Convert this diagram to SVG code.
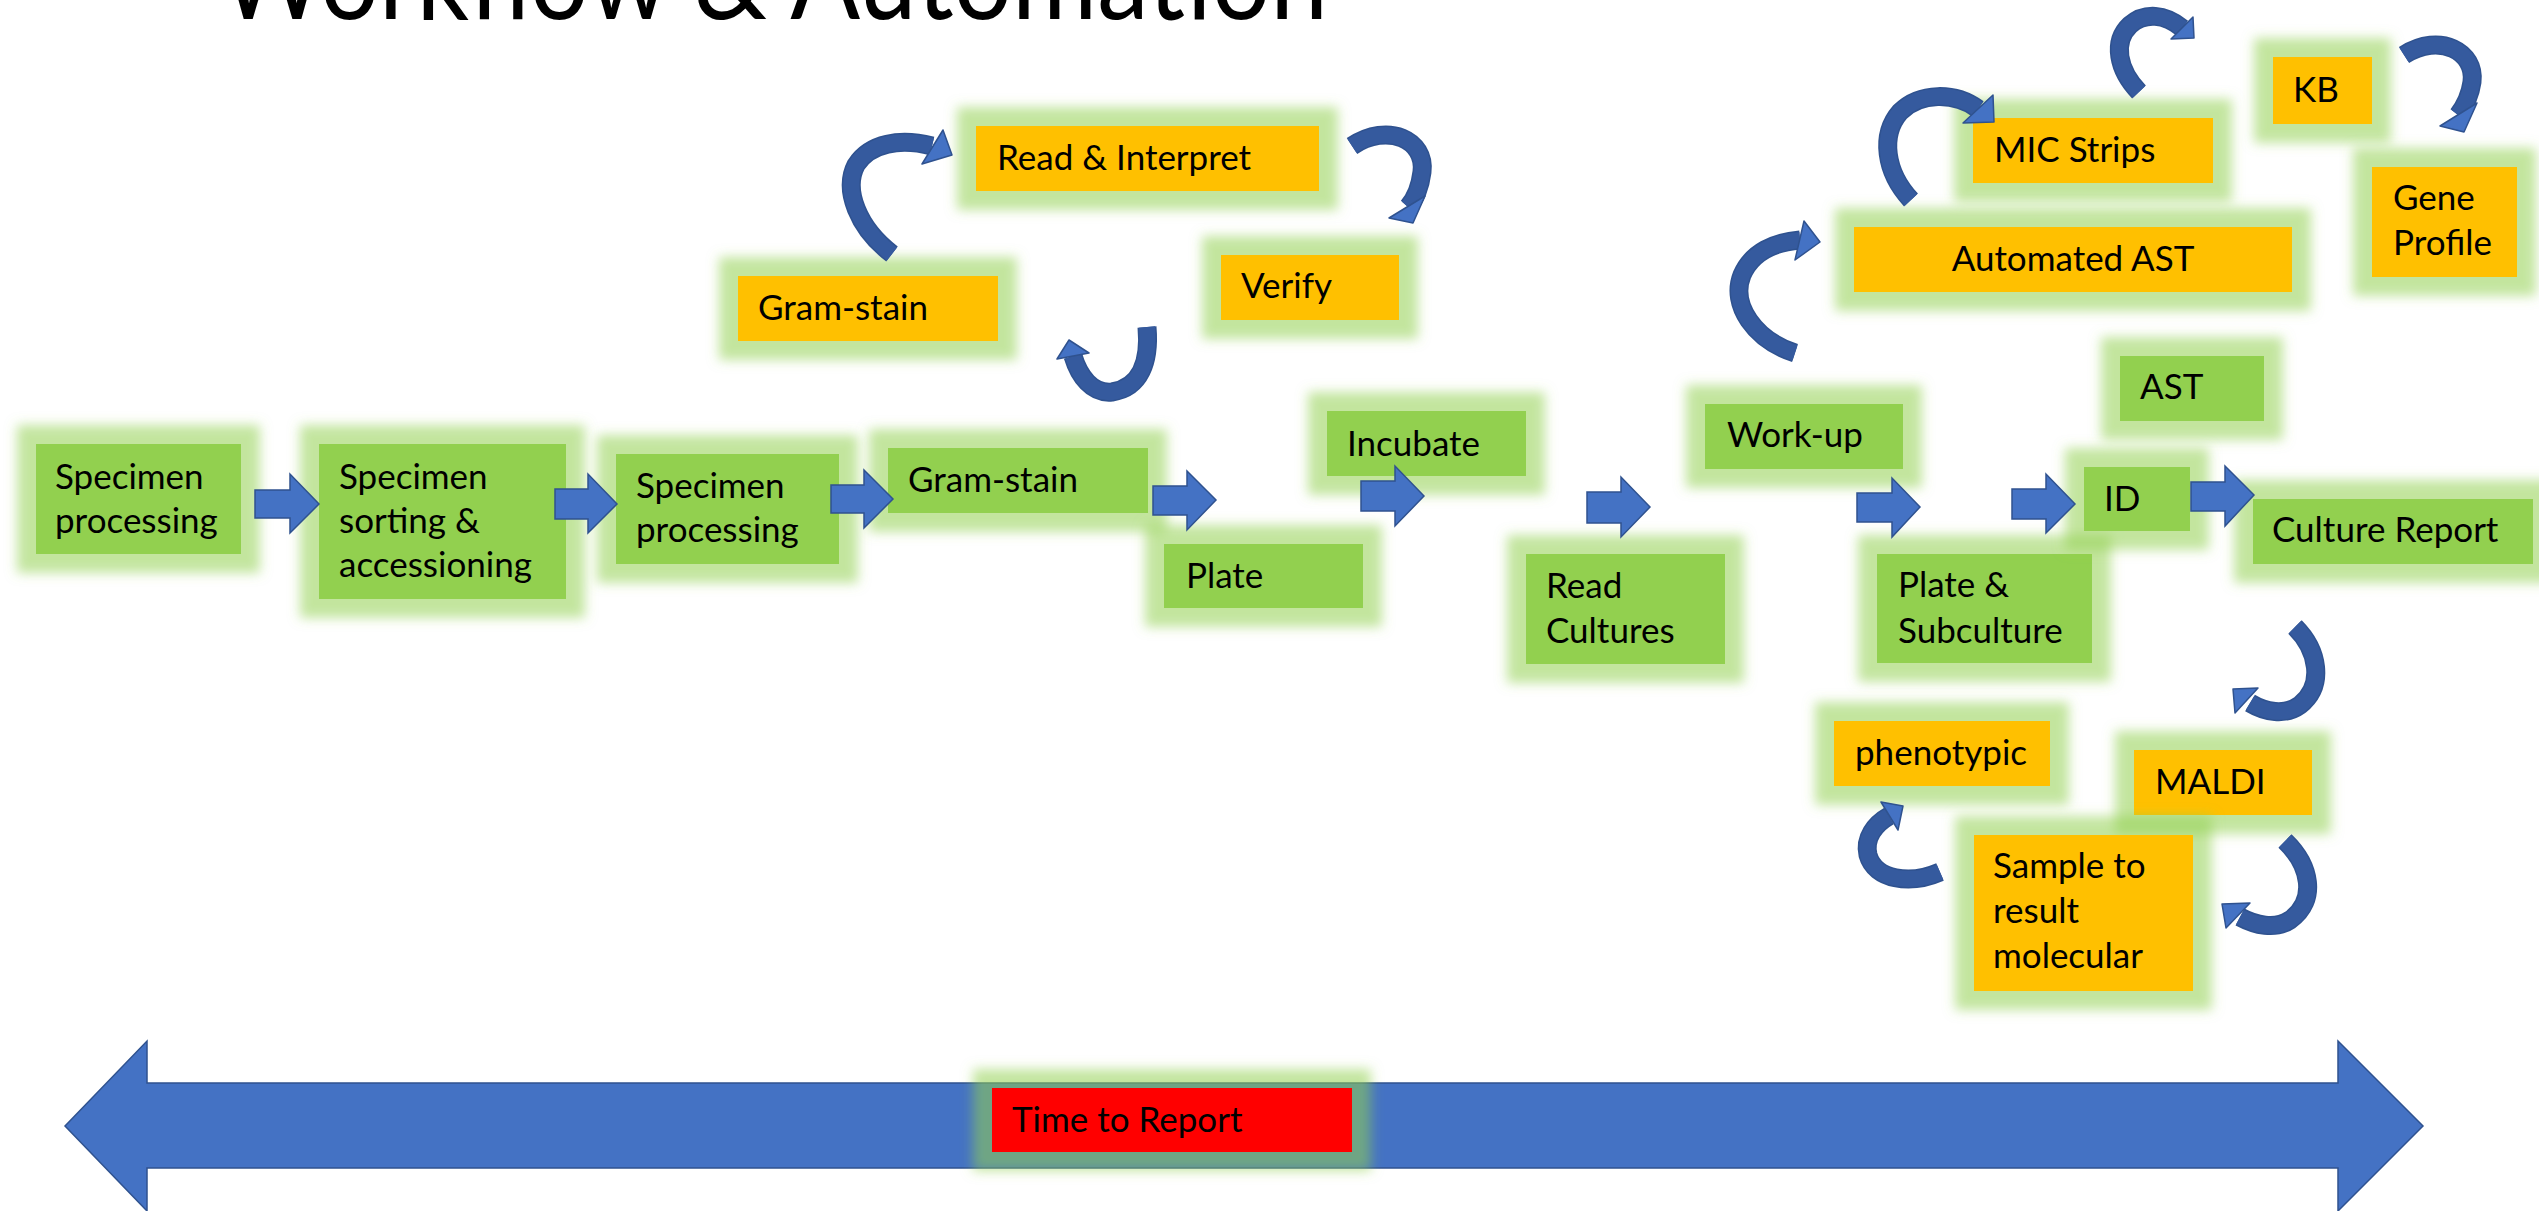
<svg xmlns="http://www.w3.org/2000/svg" width="2539" height="1211" viewBox="0 0 2539 1211">
<defs>
<filter id="glow" x="-60%" y="-100%" width="220%" height="300%">
<feMorphology in="SourceAlpha" operator="dilate" radius="19" result="d"/>
<feGaussianBlur in="d" stdDeviation="6" result="b"/>
<feFlood flood-color="#92D050" flood-opacity="0.55"/>
<feComposite in2="b" operator="in" result="g"/>
<feMerge><feMergeNode in="g"/><feMergeNode in="SourceGraphic"/></feMerge>
</filter>
</defs>
<style>
.g{fill:#92D050;filter:url(#glow)}
.o{fill:#FFC000;filter:url(#glow)}
.r{fill:#FF0000;filter:url(#glow)}
text{font-family:Lato,"Liberation Sans",sans-serif;font-size:35px;fill:#000}
.title{font-size:116px;font-weight:400}
.blk{fill:#4472C4;stroke:#2F528F;stroke-width:1.5}
.ce{fill:none;stroke:#2F528F;stroke-width:19}
.cb{fill:none;stroke:#355A9E;stroke-width:16}
.ch{fill:#4472C4;stroke:#2F528F;stroke-width:1.5;stroke-linejoin:round}
</style>
<rect width="2539" height="1211" fill="#fff"/>
<text class="title" x="219" y="19" textLength="1109" lengthAdjust="spacingAndGlyphs">Workflow &amp; Automation</text>

<g id="timeline">
<polygon class="blk" points="65,1126 147,1041 147,1083 2338,1083 2338,1041 2423,1126 2338,1211 2338,1168 147,1168 147,1211"/>
</g>
<g id="time-to-report"><rect class="r" x="992" y="1088" width="360" height="64"/><text x="1012" y="1132">Time to Report</text></g>

<g id="n-specimen-processing-1"><rect class="g" x="36" y="444" width="205" height="110"/><text x="55" y="489">Specimen</text><text x="55" y="533">processing</text></g>
<g id="n-sorting"><rect class="g" x="319" y="444" width="247" height="155"/><text x="339" y="489">Specimen</text><text x="339" y="533">sorting &amp;</text><text x="339" y="577">accessioning</text></g>
<g id="n-specimen-processing-2"><rect class="g" x="616" y="454" width="223" height="110"/><text x="636" y="498">Specimen</text><text x="636" y="542">processing</text></g>
<g id="n-gram-stain"><rect class="g" x="888" y="448" width="260" height="65"/><text x="908" y="492">Gram-stain</text></g>
<g id="n-plate"><rect class="g" x="1164" y="544" width="199" height="64"/><text x="1186" y="588">Plate</text></g>
<g id="n-incubate"><rect class="g" x="1327" y="411" width="199" height="65"/><text x="1347" y="456">Incubate</text></g>
<g id="n-read-cultures"><rect class="g" x="1526" y="554" width="199" height="110"/><text x="1546" y="598">Read</text><text x="1546" y="643">Cultures</text></g>
<g id="n-work-up"><rect class="g" x="1705" y="404" width="198" height="65"/><text x="1727" y="447">Work-up</text></g>
<g id="n-plate-subculture"><rect class="g" x="1877" y="554" width="215" height="109"/><text x="1898" y="597">Plate &amp;</text><text x="1898" y="643">Subculture</text></g>
<g id="n-ast"><rect class="g" x="2120" y="356" width="144" height="65"/><text x="2140" y="399">AST</text></g>
<g id="n-id"><rect class="g" x="2084" y="467" width="106" height="64"/><text x="2104" y="511">ID</text></g>
<g id="n-culture-report"><rect class="g" x="2253" y="499" width="280" height="65"/><text x="2272" y="542">Culture Report</text></g>

<g id="o-read-interpret"><rect class="o" x="976" y="126" width="343" height="65"/><text x="997" y="170">Read &amp; Interpret</text></g>
<g id="o-gram-stain"><rect class="o" x="738" y="276" width="260" height="65"/><text x="758" y="320">Gram-stain</text></g>
<g id="o-verify"><rect class="o" x="1221" y="255" width="178" height="65"/><text x="1241" y="298">Verify</text></g>
<g id="o-mic"><rect class="o" x="1973" y="118" width="240" height="65"/><text x="1994" y="162">MIC Strips</text></g>
<g id="o-automated-ast"><rect class="o" x="1854" y="227" width="438" height="65"/><text x="2073" y="271" text-anchor="middle">Automated AST</text></g>
<g id="o-kb"><rect class="o" x="2273" y="57" width="99" height="67"/><text x="2293" y="102">KB</text></g>
<g id="o-gene"><rect class="o" x="2372" y="167" width="145" height="110"/><text x="2393" y="210">Gene</text><text x="2393" y="255">Profile</text></g>
<g id="o-phenotypic"><rect class="o" x="1834" y="721" width="216" height="65"/><text x="1855" y="765">phenotypic</text></g>
<g id="o-maldi"><rect class="o" x="2134" y="750" width="178" height="65"/><text x="2155" y="794">MALDI</text></g>
<g id="o-sample"><rect class="o" x="1974" y="835" width="219" height="156"/><text x="1993" y="878">Sample to</text><text x="1993" y="923">result</text><text x="1993" y="968">molecular</text></g>

<g id="connectors">
<polygon class="blk" points="255,490 290,490 290,474 319,504 290,533 290,518 255,518"/>
<polygon class="blk" points="555,489 588,489 588,474 617,504 588,533 588,519 555,519"/>
<polygon class="blk" points="831,485 864,485 864,470 893,499 864,528 864,513 831,513"/>
<polygon class="blk" points="1153,486 1187,486 1187,471 1216,500 1187,530 1187,515 1153,515"/>
<polygon class="blk" points="1361,481 1395,481 1395,466 1424,496 1395,526 1395,511 1361,511"/>
<polygon class="blk" points="1587,492 1621,492 1621,477 1650,507 1621,537 1621,523 1587,523"/>
<polygon class="blk" points="1857,493 1892,493 1892,478 1920,507 1892,537 1892,522 1857,522"/>
<polygon class="blk" points="2012,489 2046,489 2046,474 2075,504 2046,533 2046,519 2012,519"/>
<polygon class="blk" points="2191,482 2225,482 2225,466 2254,495 2225,526 2225,511 2191,511"/>

<path class="ce" d="M892,254 C858,228 843,190 856,165 C870,143 900,138 932,146"/>
<path class="cb" d="M892,254 C858,228 843,190 856,165 C870,143 900,138 932,146"/>
<polygon class="ch" points="943,130 952,155 922,164"/>
<path class="ce" d="M1352,146 C1388,122 1426,140 1422,172 C1420,188 1416,198 1408,207"/>
<path class="cb" d="M1352,146 C1388,122 1426,140 1422,172 C1420,188 1416,198 1408,207"/>
<polygon class="ch" points="1425,196 1413,223 1389,218"/>
<path class="ce" d="M1147,327 C1150,362 1140,388 1112,392 C1092,394 1079,376 1073,356"/>
<path class="cb" d="M1147,327 C1150,362 1140,388 1112,392 C1092,394 1079,376 1073,356"/>
<polygon class="ch" points="1057,359 1069,340 1089,353"/>
<path class="ce" d="M1795,353 C1755,340 1730,305 1742,275 C1752,252 1775,242 1800,240"/>
<path class="cb" d="M1795,353 C1755,340 1730,305 1742,275 C1752,252 1775,242 1800,240"/>
<polygon class="ch" points="1804,221 1820,242 1795,260"/>
<path class="ce" d="M1911,200 C1885,172 1880,135 1900,112 C1920,92 1955,92 1978,109"/>
<path class="cb" d="M1911,200 C1885,172 1880,135 1900,112 C1920,92 1955,92 1978,109"/>
<polygon class="ch" points="1993,95 1994,122 1963,123"/>
<path class="ce" d="M2139,92 C2118,70 2112,42 2130,25 C2145,12 2165,14 2182,28"/>
<path class="cb" d="M2139,92 C2118,70 2112,42 2130,25 C2145,12 2165,14 2182,28"/>
<polygon class="ch" points="2193,17 2194,38 2171,39"/>
<path class="ce" d="M2404,55 C2440,32 2476,52 2472,82 C2470,96 2465,106 2458,115"/>
<path class="cb" d="M2404,55 C2440,32 2476,52 2472,82 C2470,96 2465,106 2458,115"/>
<polygon class="ch" points="2477,103 2464,132 2440,126"/>
<path class="ce" d="M2295,627 C2318,650 2325,685 2300,705 C2285,716 2265,712 2250,703"/>
<path class="cb" d="M2295,627 C2318,650 2325,685 2300,705 C2285,716 2265,712 2250,703"/>
<polygon class="ch" points="2258,688 2233,689 2235,713"/>
<path class="ce" d="M2285,841 C2310,865 2318,900 2290,920 C2275,930 2255,925 2240,917"/>
<path class="cb" d="M2285,841 C2310,865 2318,900 2290,920 C2275,930 2255,925 2240,917"/>
<polygon class="ch" points="2250,903 2222,904 2226,928"/>
<path class="ce" d="M1940,872 C1910,885 1875,880 1868,855 C1864,838 1875,824 1889,816"/>
<path class="cb" d="M1940,872 C1910,885 1875,880 1868,855 C1864,838 1875,824 1889,816"/>
<polygon class="ch" points="1881,802 1903,806 1898,830"/>
</g>
</svg>
